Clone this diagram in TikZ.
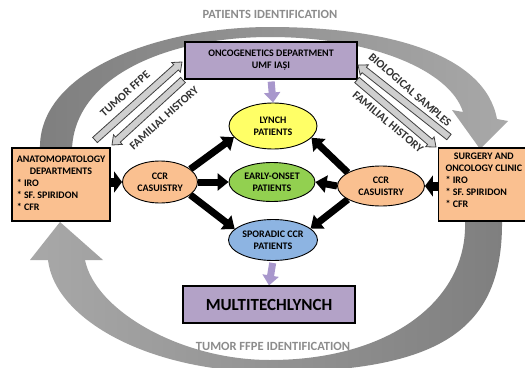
\documentclass[tikz,border=0pt]{standalone}
\usepackage{fontspec}
\setmainfont{Carlito}
\usetikzlibrary{arrows.meta,calc,shapes.geometric}
\definecolor{orng}{HTML}{FAC090}
\definecolor{purp}{HTML}{B3A2C7}
\definecolor{parr}{HTML}{A897CC}
\definecolor{yel}{HTML}{FFFF66}
\definecolor{grn}{HTML}{92D050}
\definecolor{blu}{HTML}{8DB4E2}
\definecolor{arcdark}{HTML}{7F7F7F}
\definecolor{arclight}{HTML}{A8A8A8}
\definecolor{hollowfill}{HTML}{CFCFCF}
\definecolor{hollowline}{HTML}{404040}
\definecolor{captxt}{HTML}{8C8C8C}
\pgfdeclarelayer{bg}
\pgfsetlayers{bg,main}
\newcommand\hollowarrow[2]{%
  \coordinate (ha-c) at ($(#2)!8pt!(#1)$);
  \filldraw[hollow] ($(#1)!3.5pt!90:(#2)$) -- ($(ha-c)!3.5pt!-90:(#1)$) -- ($(ha-c)!6.5pt!-90:(#1)$) -- (#2) -- ($(ha-c)!6.5pt!90:(#1)$) -- ($(ha-c)!3.5pt!90:(#1)$) -- ($(#1)!3.5pt!-90:(#2)$) -- cycle;}
\begin{document}
\begin{tikzpicture}[x=1pt,y=-1pt,
  boxstyle/.style={draw=black, line width=1.1pt, rectangle, inner sep=0pt, font=\bfseries\fontsize{10}{12}\selectfont, align=center},
  ell/.style={draw=black, line width=0.9pt, ellipse, inner sep=0pt, font=\bfseries\fontsize{10}{12}\selectfont, align=center},
  blk/.style={line width=7pt, -{Triangle[width=17pt,length=11pt]}},
  fatblk/.style={line width=9pt, -{Triangle[width=21pt,length=8pt]}},
  parrow/.style={draw=parr, line width=7pt, -{Triangle[width=16pt,length=10pt]}},
  hollow/.style={fill=hollowfill, draw=hollowline, line width=0.8pt, line join=miter},
  diag/.style={font=\bfseries\fontsize{11.5}{13}\selectfont, text=black!80, inner sep=0pt},
  captext/.style={font=\bfseries\fontsize{12.5}{14}\selectfont, text=captxt, inner sep=0pt}
]
\useasboundingbox (0,0) rectangle (525,367);
\clip (0,0) rectangle (525,367);
\begin{pgfonlayer}{bg}
\fill[white] (0,0) rectangle (525,367);
% top curved arrow
\shade[left color=arcdark, right color=arclight]
  (40,149) .. controls (38,70) and (160,27) .. (270,27)
  .. controls (390,27) and (485,55) .. (497,119)
  -- (508,121) -- (480,149) -- (452,110) -- (463,112)
  .. controls (450,70) and (370,37) .. (270,37)
  .. controls (170,37) and (75,75) .. (72,149) -- cycle;
% bottom curved arrow
\shade[left color=arclight, right color=arcdark]
  (502,221) .. controls (503,330) and (440,372) .. (270,372)
  .. controls (150,372) and (55,320) .. (48,260)
  -- (30,260) -- (60,222) -- (103,260) -- (85,260)
  .. controls (95,310) and (180,360) .. (270,360)
  .. controls (390,360) and (468,300) .. (465,221) -- cycle;
\end{pgfonlayer}

\node[boxstyle, fill=purp, minimum width=172pt, minimum height=37pt] (onco) at (271,60.5) {ONCOGENETICS DEPARTMENT\\UMF IAȘI};
\node[ell, fill=yel, minimum width=88pt, minimum height=46pt] (lynch) at (273,126) {LYNCH\\PATIENTS};
\node[ell, fill=grn, minimum width=86pt, minimum height=39pt] (early) at (272,182) {EARLY-ONSET\\PATIENTS};
\node[ell, fill=blu, minimum width=89pt, minimum height=41pt] (spor) at (273,240) {SPORADIC CCR\\PATIENTS};
\node[boxstyle, fill=purp, minimum width=172pt, minimum height=37pt, font=\bfseries\fontsize{17}{20}\selectfont] (multi) at (269,304.5) {MULTITECHLYNCH};
\node[ell, fill=orng, minimum width=75pt, minimum height=42pt] (lccr) at (160,182) {CCR\\CASUISTRY};
\node[ell, fill=orng, minimum width=87pt, minimum height=40pt] (rccr) at (381,186) {CCR\\CASUISTRY};
\node[boxstyle, fill=orng, minimum width=98pt, minimum height=73pt] (lbox) at (61,184.5)
  {\begin{tabular}{@{}l@{}}\multicolumn{1}{@{}c@{}}{ANATOMOPATOLOGY}\\\multicolumn{1}{@{}c@{}}{DEPARTMENTS}\\{}* IRO\\{}* SF. SPIRIDON\\{}* CFR\end{tabular}};
\node[boxstyle, fill=orng, anchor=west, minimum height=73pt, inner xsep=7pt, text depth=34pt] (rbox) at (438,184.5)
  {\begin{tabular}{@{}l@{}}\multicolumn{1}{@{}c@{}}{SURGERY AND}\\ONCOLOGY CLINIC\\{}* IRO\\{}* SF. SPIRIDON\\{}* CFR\end{tabular}};

\begin{pgfonlayer}{bg}
\draw[fatblk] (lbox.east |- lccr.west) -- (lccr.west);
\draw[fatblk] (rbox.west |- rccr.east) -- (rccr.east);
\draw[blk] (lccr.23) -- (lynch.196);
\draw[blk] (lccr.east) -- (early.west);
\draw[blk] (lccr.-23) -- (spor.164);
\draw[blk] (rccr.158) -- (lynch.-17);
\draw[blk] (rccr.west) -- (early.east);
\draw[blk] (rccr.-158) -- (spor.17);
\draw[parrow, shorten <=2pt] (onco.south) -- (lynch.north);
\draw[parrow, shorten <=2pt] (spor.south) -- (multi.north);
\end{pgfonlayer}

\coordinate (tfA) at (95,140);  \coordinate (tfB) at (182,62);
\coordinate (fhA) at (183,80);  \coordinate (fhB) at (112,145);
\coordinate (bsA) at (449,137); \coordinate (bsB) at (358,65);
\coordinate (fhrA) at (357,80); \coordinate (fhrB) at (436,147);
\hollowarrow{tfA}{tfB}
\hollowarrow{fhA}{fhB}
\hollowarrow{bsA}{bsB}
\hollowarrow{fhrA}{fhrB}

\node[diag, rotate=42] (ltf) at (125,94) {TUMOR FFPE};
\node[diag, rotate=42] (lfh) at (164,118) {FAMILIAL HISTORY};
\node[diag, rotate=-41] (lbs) at (410,90) {BIOLOGICAL SAMPLES};
\node[diag, rotate=-40] (lfhr) at (388,122) {FAMILIAL HISTORY};

\node[captext] (ctop) at (270,14) {PATIENTS IDENTIFICATION};
\node[captext] (cbot) at (273,346) {TUMOR FFPE IDENTIFICATION};
\end{tikzpicture}
\end{document}
